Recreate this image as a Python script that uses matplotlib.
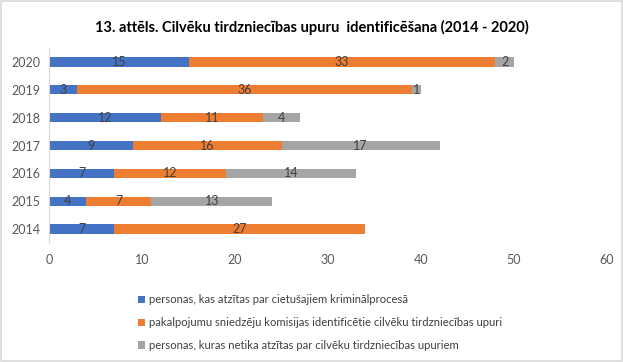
import matplotlib.pyplot as plt
import numpy as np

plt.rcParams['font.family'] = ['Lato', 'DejaVu Sans']

years = ['2014', '2015', '2016', '2017', '2018', '2019', '2020']
victims = [7, 4, 7, 9, 12, 3, 15]
commission = [27, 7, 12, 16, 11, 36, 33]
not_recognized = [0, 13, 14, 17, 4, 1, 2]
labels = ['personas, kas atzītas par cietušajiem kriminālprocesā',
          'pakalpojumu sniedzēju komisijas identificētie cilvēku tirdzniecības upuri',
          'personas, kuras netika atzītas par cilvēku tirdzniecības upuriem']
colors = ['#4472C4', '#ED7D31', '#A5A5A5']

fig = plt.figure(figsize=(6.23, 3.62), dpi=100)
fig.patches.append(plt.Rectangle((0.002, 0.003), 0.996, 0.994, transform=fig.transFigure,
                                 fill=False, edgecolor='#D9D9D9', lw=1.2))
ax = fig.add_axes([0.079, 0.329, 0.895, 0.538])

y = np.arange(len(years))
left = np.zeros(len(years))
handles = []
for vals, c, lab in zip([victims, commission, not_recognized], colors, labels):
    vals = np.array(vals)
    b = ax.barh(y, vals, left=left, height=0.33, color=c, label=lab)
    handles.append(b)
    for yi, l, v in zip(y, left, vals):
        if v > 0:
            ax.text(l + v / 2, yi, str(v), ha='center', va='center', fontsize=9, color='#404040')
    left = left + vals

ax.set_xlim(0, 60)
ax.set_ylim(-0.5, 6.5)
ax.set_xticks(range(0, 61, 10))
ax.set_yticks(y)
ax.set_yticklabels(years)
for s in ['top', 'right', 'bottom']:
    ax.spines[s].set_visible(False)
ax.spines['left'].set_color('#D9D9D9')
ax.tick_params(axis='both', length=0, labelsize=9, labelcolor='#595959')
ax.tick_params(axis='x', pad=8)
ax.tick_params(axis='y', pad=6)

fig.suptitle('13. attēls. Cilvēku tirdzniecības upuru  identificēšana (2014 - 2020)',
             y=0.945, fontsize=10.5, fontweight='bold')

fig.legend(handles=handles, loc='upper left', bbox_to_anchor=(0.205, 0.215), ncol=1,
           frameon=False, fontsize=8.1, handlelength=0.6, handleheight=0.6,
           handletextpad=0.4, labelspacing=1.05, labelcolor='#404040')

fig.savefig('out.png', dpi=100)
